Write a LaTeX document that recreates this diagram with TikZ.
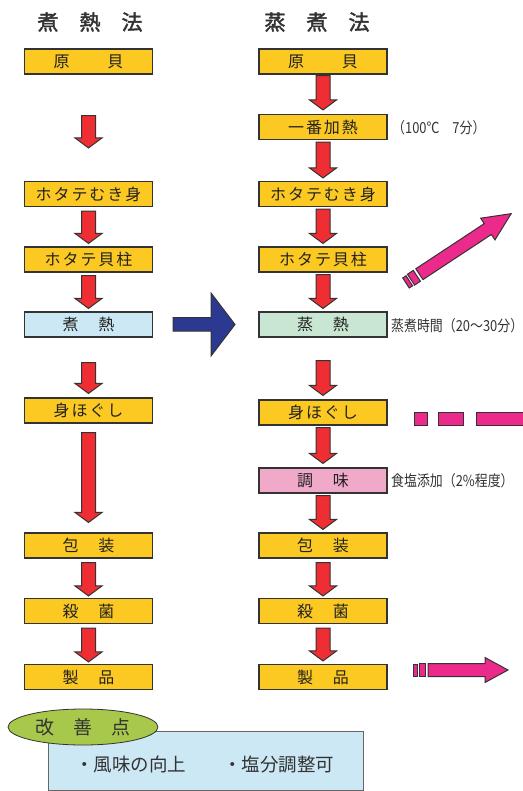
\documentclass[tikz,border=0pt]{standalone}
\usepackage{fontspec}
\setmainfont{Noto Sans CJK JP}
\newfontfamily\boxfont[LetterSpace=12]{Noto Sans CJK JP}
\newfontfamily\notefont[FakeStretch=0.85]{Noto Sans CJK JP}
\newfontfamily\titlefont[FakeBold=2]{Noto Sans CJK JP}
\usetikzlibrary{calc,shapes.geometric}
\definecolor{yel}{HTML}{FCC923}
\definecolor{grn}{HTML}{C8E6D2}
\definecolor{pnk}{HTML}{F0A9C9}
\definecolor{lblue}{HTML}{CCE8F4}
\definecolor{redA}{HTML}{EE2E33}
\definecolor{blueA}{HTML}{2B3990}
\definecolor{mag}{HTML}{EC2A8C}
\definecolor{ellg}{HTML}{A8C84B}
\definecolor{linec}{HTML}{333333}
\definecolor{txt}{HTML}{222222}
\newcommand\blockdown[2]{%
  \path[redarrow] let \p1=#1, \p2=#2 in
   (\x1-7pt,\y1) -- (\x1+7pt,\y1) -- (\x1+7pt,\y2+10pt) -- (\x1+13.5pt,\y2+10pt)
   -- (\x1,\y2) -- (\x1-13.5pt,\y2+10pt) -- (\x1-7pt,\y2+10pt) -- cycle;}
\tikzset{
  box/.style={draw=linec, line width=1.1pt, minimum width=128pt, minimum height=25pt,
    inner sep=0pt, font=\boxfont\fontsize{16}{16}\selectfont, text=txt},
  ybox/.style={box, fill=yel},
  redarrow/.style={draw=linec, line width=1pt, fill=redA, line join=miter},
  magarrow/.style={draw=linec, line width=1pt, fill=mag},
  note/.style={anchor=west, inner sep=0pt, text=linec, font=\notefont\fontsize{15.2}{15.2}\selectfont},
  ttl/.style={inner sep=0pt, text=linec, font=\titlefont\fontsize{21}{21}\selectfont}
}
\begin{document}
\begin{tikzpicture}[x=1pt,y=-1pt]
\useasboundingbox (0,0) rectangle (522,791);
% titles
\node[ttl] (t1) at (90,22) {煮　熱　法};
\node[ttl] (t2) at (317,22) {蒸　煮　法};
% left column
\node[ybox] (L1) at (88.5,61.5) {原　　貝};
\node[ybox] (L2) at (88.5,194) {ホタテむき身};
\node[ybox] (L3) at (88.5,259.5) {ホタテ貝柱};
\node[box, fill=lblue] (L4) at (88.5,324.5) {煮　熱};
\node[ybox] (L5) at (88.5,410.5) {身ほぐし};
\node[ybox] (L6) at (88.5,545.5) {包　装};
\node[ybox] (L7) at (88.5,611) {殺　菌};
\node[ybox] (L8) at (88.5,677) {製　品};
% right column
\node[ybox] (R1) at (323,61.5) {原　　貝};
\node[ybox] (R2) at (323,127) {一番加熱};
\node[ybox] (R3) at (323,194) {ホタテむき身};
\node[ybox] (R4) at (323,259.5) {ホタテ貝柱};
\node[box, fill=grn] (R5) at (323,324.5) {蒸　熱};
\node[ybox] (R6) at (323,412.5) {身ほぐし};
\node[box, fill=pnk] (R7) at (323,480.5) {調　味};
\node[ybox] (R8) at (323,545.5) {包　装};
\node[ybox] (R9) at (323,611) {殺　菌};
\node[ybox] (R10) at (323,677) {製　品};
% notes
\node[note] (n1) at (392,128) {（100℃　7分）};
\node[note] (n2) at (391,326) {蒸煮時間（20～30分）};
\node[note] (n3) at (391,481) {食塩添加（2\%程度）};
% left arrows
\blockdown{([yshift=-41pt]L1.south)}{([yshift=33pt]L2.north)}
\blockdown{([yshift=-4pt]L2.south)}{([yshift=3pt]L3.north)}
\blockdown{([yshift=-3pt]L3.south)}{([yshift=3pt]L4.north)}
\blockdown{([yshift=-25pt]L4.south)}{([yshift=4pt]L5.north)}
\blockdown{([yshift=-9pt]L5.south)}{([yshift=10pt]L6.north)}
\blockdown{([yshift=-4pt]L6.south)}{([yshift=2pt]L7.north)}
\blockdown{([yshift=-4pt]L7.south)}{([yshift=2pt]L8.north)}
% right arrows
\blockdown{([yshift=-1pt]R1.south)}{([yshift=4pt]R2.north)}
\blockdown{([yshift=-2pt]R2.south)}{([yshift=3pt]R3.north)}
\blockdown{([yshift=-2pt]R3.south)}{([yshift=3pt]R4.north)}
\blockdown{([yshift=-2pt]R4.south)}{([yshift=3pt]R5.north)}
\blockdown{([yshift=-23pt]R5.south)}{([yshift=4pt]R6.north)}
\blockdown{([yshift=-2pt]R6.south)}{([yshift=4pt]R7.north)}
\blockdown{([yshift=-2pt]R7.south)}{([yshift=3pt]R8.north)}
\blockdown{([yshift=-4pt]R8.south)}{([yshift=2pt]R9.north)}
\blockdown{([yshift=-4pt]R9.south)}{([yshift=3pt]R10.north)}
% blue arrow
\path[draw=linec, line width=1pt, fill=blueA]
  (173,317.5) -- (211,317.5) -- (211,293) -- (235,324.5) -- (211,356) -- (211,331) -- (173,331) -- cycle;
% diagonal magenta arrow
\begin{scope}[shift={(406,283)}, rotate=33.4]
  \path[magarrow] (0,-6) rectangle (4,6);
  \path[magarrow] (6,-6.5) rectangle (13,6.5);
  \path[magarrow] (16,-6.5) -- (98,-6.5) -- (98,-13) -- (126,0) -- (98,13) -- (98,6.5) -- (16,6.5) -- cycle;
\end{scope}
% dashes
\path[magarrow] (414,412) rectangle (427,425);
\path[magarrow] (438,412) rectangle (463,425);
\path[magarrow] (476,412) rectangle (525,425);
% bottom right arrow
\path[magarrow] (413,664) rectangle (417,676);
\path[magarrow] (419,663.5) rectangle (425,676.5);
\path[magarrow] (428,663.5) -- (485,663.5) -- (485,657.5) -- (508,670) -- (485,682.5) -- (485,676.5) -- (428,676.5) -- cycle;
% improvement box
\node[draw=black!60, line width=0.8pt, fill=lblue, minimum width=315pt, minimum height=59pt, inner sep=0pt] (imp) at (205.5,760.5) {};
\node[inner sep=0pt, text=linec, font=\fontsize{18.5}{18.5}\selectfont] (impt) at (204.5,764) {・風味の向上　　・塩分調整可};
\node[ellipse, draw=linec, line width=0.8pt, fill=ellg, minimum width=150pt, minimum height=36pt, inner sep=0pt,
  text=linec, font=\fontsize{19}{19}\selectfont] (ell) at (83,727) {改　善　点};
\end{tikzpicture}
\end{document}
